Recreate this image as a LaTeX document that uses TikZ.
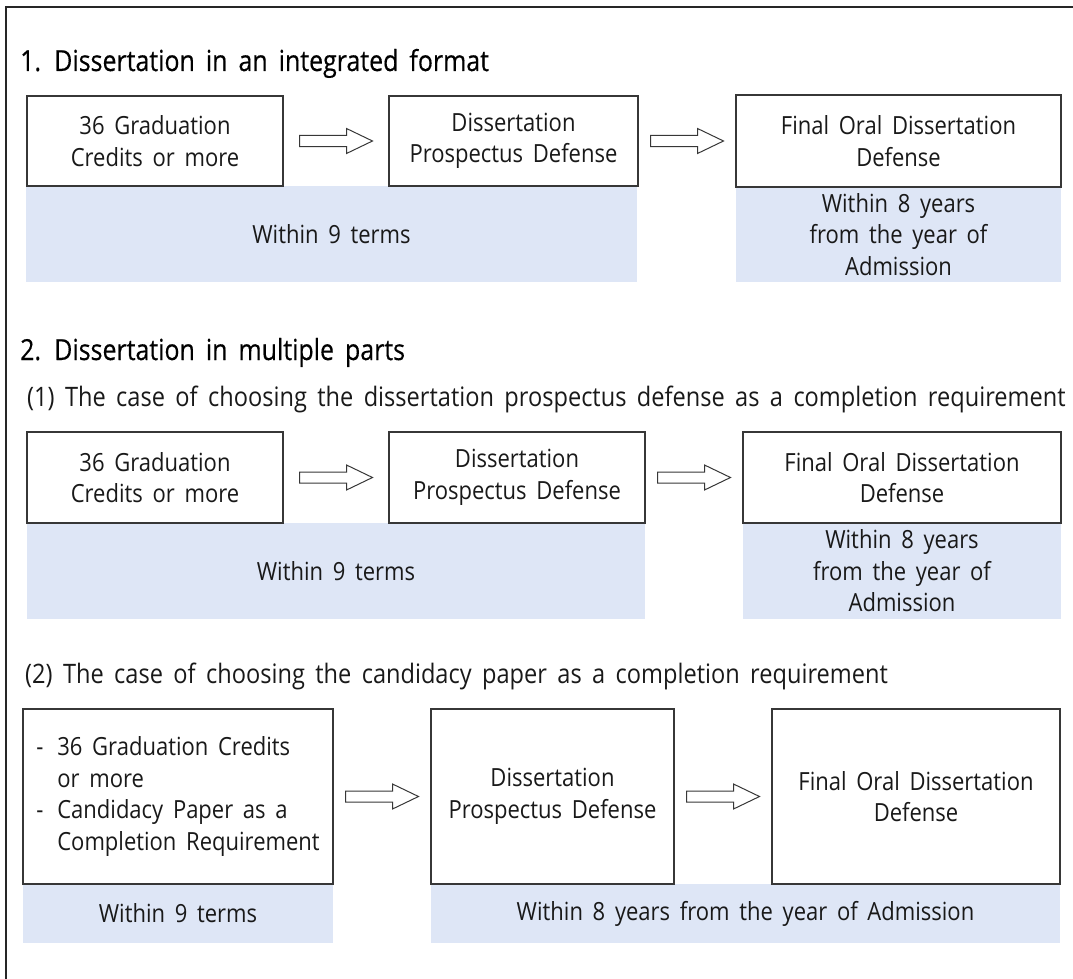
\documentclass[tikz,border=0pt]{standalone}
\usepackage{fontspec}
\setmainfont{Open Sans}[FakeStretch=0.88, WordSpace=1.7]
\newfontfamily\headfam{Open Sans}[FakeStretch=0.86, WordSpace=1.7, FakeBold=0.35]
\usetikzlibrary{calc}
\definecolor{bandblue}{RGB}{222,230,246}
\definecolor{ink}{RGB}{25,25,25}
\definecolor{edge}{RGB}{55,55,55}
\newcommand\bodyfont{\fontsize{25}{31.5}\selectfont}
\newcommand\headfont{\headfam\fontsize{29}{34}\selectfont}
\newcommand\subfont{\fontsize{26.8}{32}\selectfont}
\newcommand\blockarrow[2]{%
  \coordinate (m-#1-#2) at ($(#1.east)!0.5!(#2.west)$);
  \draw[blockarr] ($(m-#1-#2)+(-36.5,-5.5)$) -- ++(47,0) -- ++(0,-7) -- ++(26,12.5)
    -- ++(-26,12.5) -- ++(0,-7) -- ++(-47,0) -- cycle;}
\begin{document}
\begin{tikzpicture}[x=1pt,y=-1pt,
  stepbox/.style={draw=edge, line width=1.2pt, fill=white, inner sep=0pt,
    align=center, font=\bodyfont, text=ink},
  band/.style={fill=bandblue, inner sep=0pt, align=center, font=\bodyfont, text=ink},
  head/.style={anchor=base west, inner sep=0pt, font=\headfont, text=black},
  sub/.style={anchor=base west, inner sep=0pt, font=\subfont, text=ink},
  blockarr/.style={draw=edge, line width=1pt, fill=white, line join=miter}]
\useasboundingbox (0,0) rectangle (1073,979);
% frame (top and left edges)
\draw[line width=1.5pt, black!85] (6,979) -- (6,7) -- (1073,7);

% ---------- Section 1 ----------
\node[head] (t1) at (20,71) {1. Dissertation in an integrated format};
\node[band, minimum width=611, minimum height=96] (ba12) at (331.5,234) {Within 9 terms};
\node[band, minimum width=325, minimum height=95] (ba3) at (898.5,234.5) {Within 8 years\\from the year of\\Admission};
\node[stepbox, minimum width=256, minimum height=90] (a1) at (155,141) {36 Graduation\\Credits or more};
\node[stepbox, minimum width=249, minimum height=90] (a2) at (513.5,141) {Dissertation\\Prospectus Defense};
\node[stepbox, minimum width=325, minimum height=92] (a3) at (898.5,141) {Final Oral Dissertation\\Defense};
\blockarrow{a1}{a2}
\blockarrow{a2}{a3}

% ---------- Section 2 ----------
\node[head] (t2) at (20,360) {2. Dissertation in multiple parts};
\node[sub] (t21) at (27,406) {(1) The case of choosing the dissertation prospectus defense as a completion requirement};
\node[band, minimum width=618, minimum height=96] (bb12) at (336,571) {Within 9 terms};
\node[band, minimum width=318, minimum height=96] (bb3) at (902,571) {Within 8 years\\from the year of\\Admission};
\node[stepbox, minimum width=256, minimum height=91] (b1) at (155,477.5) {36 Graduation\\Credits or more};
\node[stepbox, minimum width=256, minimum height=91] (b2) at (517,477.5) {Dissertation\\Prospectus Defense};
\node[stepbox, minimum width=318, minimum height=91] (b3) at (902,477.5) {Final Oral Dissertation\\Defense};
\blockarrow{b1}{b2}
\blockarrow{b2}{b3}

\node[sub] (t22) at (25,683) {(2) The case of choosing the candidacy paper as a completion requirement};
\node[band, minimum width=310, minimum height=59] (bc1) at (178,913.5) {Within 9 terms};
\node[band, minimum width=629, minimum height=59] (bc23) at (745.5,913.5) {Within 8 years from the year of Admission};
\node[stepbox, minimum width=310, minimum height=175, align=left] (c1) at (178,796.5)
  {\makebox[21pt][l]{-}36 Graduation Credits\\
   \hspace*{21pt}or more\\
   \makebox[21pt][l]{-}Candidacy Paper as a\\
   \hspace*{21pt}Completion Requirement};
\node[stepbox, minimum width=243, minimum height=175] (c2) at (552.5,796.5) {Dissertation\\Prospectus Defense};
\node[stepbox, minimum width=288, minimum height=175] (c3) at (916,796.5) {Final Oral Dissertation\\Defense};
\blockarrow{c1}{c2}
\blockarrow{c2}{c3}
\end{tikzpicture}
\end{document}
